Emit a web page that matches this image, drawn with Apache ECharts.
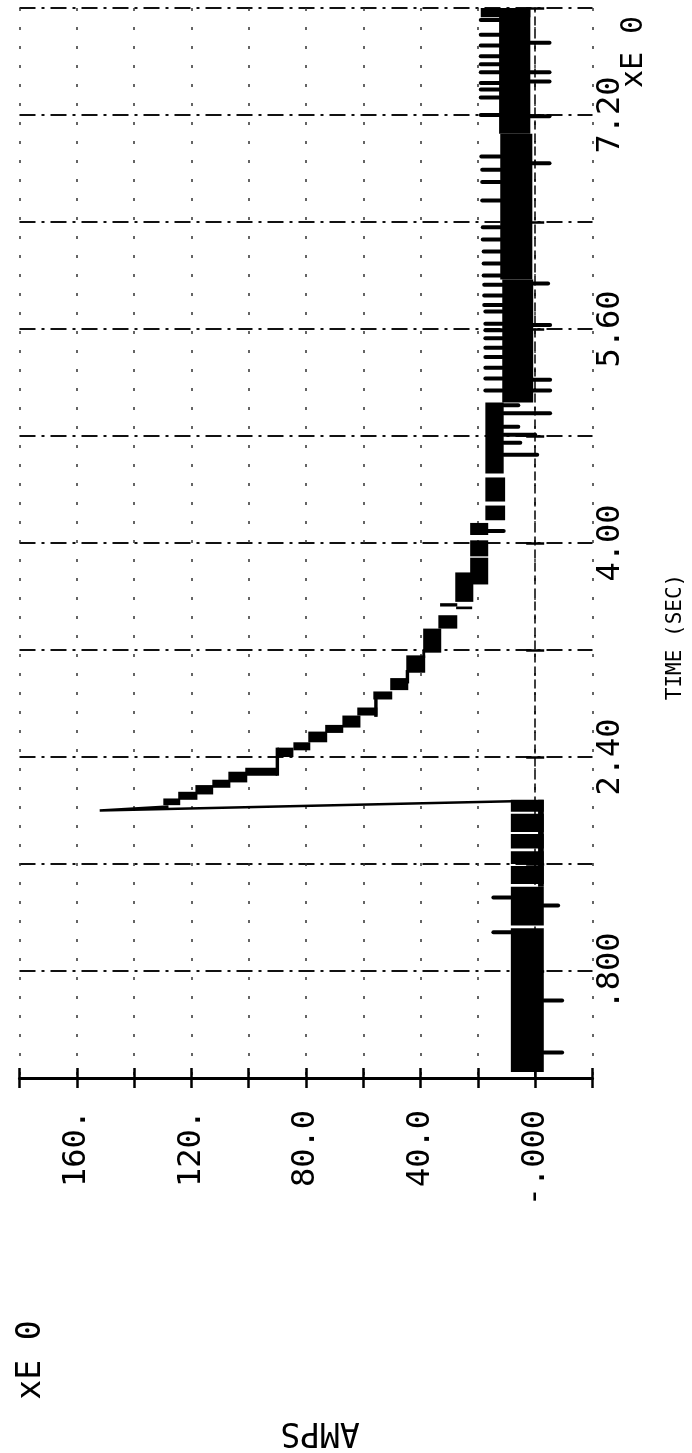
<!DOCTYPE html>
<html>
<head>
    <meta charset="utf-8" />
    <title>AMPS vs TIME</title>
    <script src="https://cdn.jsdelivr.net/npm/echarts@6/dist/echarts.min.js"></script>
    <style>
        html, body { margin: 0; padding: 0; background: #fff; }
        #chart { width: 692px; height: 1453px; }
    </style>
</head>
<body>
    <div id="chart"></div>
    <script>
        // tick labels (plotter style)
        const ampTicks = [0, 40, 80, 120, 160];
        const ampTickText = ['-.000', '40.0', '80.0', '120.', '160.'];
        const timeTicks = [0.8, 2.4, 4.0, 5.6, 7.2];
        const timeTickText = ['.800', '2.40', '4.00', '5.60', '7.20'];

        // filled blocks of the trace: [t start, t end, amps low, amps high]
        const quietBand = [
            [0.045, 1.12, -3, 8.5], [1.14, 1.43, -3, 8.5], [1.45, 1.585, -3, 8.5],
            [1.60, 1.695, -3, 8.5], [1.715, 1.825, -3, 8.5], [1.84, 1.975, -3, 8.5],
            [1.99, 2.08, -3, 8.5], [1.43, 2.08, -3, -1]
        ];
        const decaySteps = [
            [2.04, 2.09, 123.9, 129.8], [2.08, 2.14, 117.9, 124.6], [2.12, 2.19, 112.4, 118.6],
            [2.17, 2.23, 106.4, 112.7], [2.21, 2.29, 100.5, 107.1], [2.26, 2.32, 90.0, 101.2],
            [2.26, 2.47, 89.4, 90.6], [2.40, 2.47, 84.4, 90.0], [2.45, 2.51, 78.5, 84.4],
            [2.51, 2.59, 72.6, 79.2], [2.58, 2.64, 67.0, 73.3], [2.62, 2.71, 61.0, 67.3],
            [2.71, 2.77, 55.1, 62.1], [2.70, 2.86, 55.0, 56.2], [2.83, 2.89, 49.9, 56.5],
            [2.90, 2.99, 44.3, 50.6], [2.95, 3.05, 44.0, 45.2], [3.03, 3.16, 38.4, 45.0],
            [3.14, 3.20, 38.4, 39.4], [3.18, 3.36, 32.8, 39.1], [3.36, 3.46, 27.2, 33.8],
            [3.505, 3.525, 22.0, 27.6], [3.525, 3.55, 27.2, 33.2], [3.56, 3.78, 21.6, 27.9],
            [3.69, 3.89, 16.4, 22.7], [3.90, 4.02, 16.4, 22.7], [4.06, 4.15, 16.4, 22.7],
            [4.17, 4.28, 10.5, 17.4], [4.31, 4.49, 10.5, 17.4]
        ];
        const tailBand = [
            [4.52, 5.05, 11.0, 17.4], [5.05, 5.97, 0.7, 11.5],
            [5.97, 7.06, 1.0, 12.2], [7.06, 8.0, 1.7, 12.6], [7.93, 8.0, 1.7, 19.0]
        ];

        // narrow excursions: [t, amps from, amps to]
        const upTeeth = [
            [1.09, 8.5, 14.6], [1.35, 8.5, 14.6],
            [5.14, 11.5, 17.4], [5.23, 11.5, 17.4], [5.31, 11.5, 17.4], [5.39, 11.5, 17.4],
            [5.46, 11.5, 17.4], [5.53, 11.5, 17.4], [5.59, 11.5, 17.4], [5.64, 11.5, 17.4],
            [5.73, 11.5, 17.4], [5.78, 11.5, 17.8], [5.85, 11.5, 17.8], [5.93, 11.5, 17.8],
            [6.00, 12.2, 18.0], [6.09, 12.2, 18.0], [6.18, 12.2, 18.0], [6.27, 12.2, 18.3],
            [6.36, 12.2, 18.3], [6.56, 12.2, 18.5], [6.70, 12.2, 18.5], [6.79, 12.2, 18.5],
            [6.89, 12.2, 18.8], [7.20, 12.6, 19.0], [7.33, 12.6, 19.0], [7.39, 12.6, 19.0],
            [7.44, 12.6, 19.0], [7.52, 12.6, 19.0], [7.58, 12.6, 19.0], [7.64, 12.6, 19.0],
            [7.72, 12.6, 19.0], [7.80, 12.6, 19.0], [7.91, 12.6, 19.0]
        ];
        const downSpikes = [
            [0.19, -3, -9.4], [0.58, -3, -9.4], [1.29, -3, -8.0], [4.09, 16.4, 11.0],
            [4.66, 11.0, -0.7], [4.75, 11.0, 5.2], [4.81, 11.0, 0.0], [4.87, 11.0, 5.9],
            [4.97, 11.0, -5.2], [5.03, 11.0, 5.9], [5.14, 0.7, -5.2], [5.22, 0.7, -5.2],
            [5.63, 0.7, -5.2], [5.94, 0.7, -4.5], [6.84, 1.0, -5.0], [7.19, 1.7, -5.0],
            [7.45, 1.7, -5.0], [7.52, 1.7, -5.0], [7.74, 1.7, -5.0]
        ];

        // the surge: [amps, t]
        const surge = [[8, 2.07], [152, 2.0], [128, 2.03]];

        const chart = echarts.init(document.getElementById('chart'));
        const font = 'DejaVu Sans Mono';

        function blockItem(params, api) {
            const a = api.coord([api.value(3), api.value(1)]);
            const b = api.coord([api.value(2), api.value(0)]);
            return {
                type: 'rect',
                shape: {
                    x: Math.min(a[0], b[0]), y: Math.min(a[1], b[1]),
                    width: Math.abs(b[0] - a[0]), height: Math.max(Math.abs(b[1] - a[1]), 1)
                },
                style: { fill: '#000' }
            };
        }

        function spikeItem(params, api) {
            const p = api.coord([api.value(1), api.value(0)]);
            const q = api.coord([api.value(2), api.value(0)]);
            return {
                type: 'line',
                shape: { x1: p[0], y1: p[1], x2: q[0], y2: q[1] },
                style: { stroke: '#000', lineWidth: 4, lineCap: 'round' }
            };
        }

        const ampAxis = {
            type: 'value', inverse: true, min: -20, max: 180, interval: 20, position: 'bottom'
        };
        const timeAxis = {
            type: 'value', min: 0, max: 8, interval: 0.8, position: 'right', offset: -8
        };

        const option = {
            animation: false,
            backgroundColor: '#fff',
            grid: { left: 19.5, right: 99.5, top: 8, bottom: 375, containLabel: false, outerBoundsMode: 'none' },
            xAxis: [
                Object.assign({}, ampAxis, {
                    axisLine: { lineStyle: { color: '#000', width: 3 } },
                    axisTick: { length: 10, lineStyle: { color: '#000', width: 2.5 } },
                    axisLabel: {
                        rotate: 90, margin: 32, color: '#000', fontFamily: font, fontSize: 32,
                        formatter: v => {
                            const i = ampTicks.indexOf(Math.round(v));
                            return i < 0 ? '' : ampTickText[i];
                        }
                    },
                    splitLine: { show: true, lineStyle: { color: '#333', width: 1.5, type: [3, 16] } }
                }),
                Object.assign({}, ampAxis, {
                    axisLine: { show: false },
                    axisTick: { inside: true, length: 10, lineStyle: { color: '#000', width: 2.5 } },
                    axisLabel: { show: false },
                    splitLine: { show: false }
                })
            ],
            yAxis: [
                Object.assign({}, timeAxis, {
                    axisLine: { lineStyle: { color: '#000', width: 1.5, type: [8, 5] } },
                    axisTick: { length: 9, lineStyle: { color: '#000', width: 2.5 } },
                    axisLabel: {
                        rotate: 90, margin: 10, color: '#000', fontFamily: font, fontSize: 32,
                        formatter: v => {
                            const i = timeTicks.findIndex(t => Math.abs(t - v) < 1e-6);
                            return i < 0 ? '' : timeTickText[i];
                        }
                    },
                    splitLine: { show: true, lineStyle: { color: '#111', width: 2.2, type: [16, 6, 3, 6] } }
                }),
                Object.assign({}, timeAxis, {
                    axisLine: { show: false },
                    axisTick: { inside: true, length: 9, lineStyle: { color: '#000', width: 2.5 } },
                    axisLabel: { show: false },
                    splitLine: { show: false }
                })
            ],
            graphic: [
                {
                    type: 'text', x: 676, y: 637, rotation: Math.PI / 2,
                    style: { text: 'TIME (SEC)', fontFamily: font, fontSize: 21, fill: '#000', align: 'center', verticalAlign: 'middle' }
                },
                {
                    type: 'text', x: 634, y: 52, rotation: Math.PI / 2,
                    style: { text: 'xE 0', fontFamily: font, fontSize: 30, fill: '#000', align: 'center', verticalAlign: 'middle' }
                },
                {
                    type: 'text', x: 31, y: 1360, rotation: Math.PI / 2,
                    style: { text: 'xE 0', fontFamily: font, fontSize: 33, fill: '#000', align: 'center', verticalAlign: 'middle' }
                },
                {
                    type: 'text', x: 320, y: 1432, rotation: Math.PI,
                    style: { text: 'AMPS', fontFamily: font, fontSize: 33, fill: '#000', align: 'center', verticalAlign: 'middle' }
                }
            ],
            series: [
                { type: 'custom', name: 'band', renderItem: blockItem, data: quietBand.concat(decaySteps, tailBand) },
                { type: 'custom', name: 'spikes', renderItem: spikeItem, data: upTeeth.concat(downSpikes) },
                {
                    type: 'line', name: 'surge', data: surge, symbol: 'none',
                    lineStyle: { color: '#000', width: 2.5 }
                }
            ]
        };

        chart.setOption(option);
    </script>
</body>
</html>
